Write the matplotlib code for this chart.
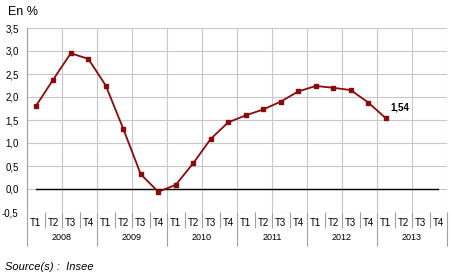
import matplotlib
matplotlib.use("Agg")
import matplotlib.pyplot as plt
import matplotlib.transforms as mtransforms
import numpy as np

plt.rcParams['font.family'] = ['Liberation Sans', 'DejaVu Sans']

years = ['2008', '2009', '2010', '2011', '2012', '2013']
quarters = ['T1', 'T2', 'T3', 'T4']
values = [1.80, 2.38, 2.95, 2.83,
          2.25, 1.31, 0.32, -0.06,
          0.09, 0.56, 1.09, 1.45,
          1.60, 1.73, 1.90, 2.12,
          2.24, 2.20, 2.15, 1.88,
          1.54]
yticks = [-0.5, 0.0, 0.5, 1.0, 1.5, 2.0, 2.5, 3.0, 3.5]
last_label = '1,54'

line_color = '#8b0a0a'
grid_color = '#c8c8c8'
axis_color = '#a0a0a0'

n_q = len(years) * len(quarters)
centers = np.arange(n_q) + 0.5

fig = plt.figure(figsize=(4.5, 2.79), dpi=100)
ax = fig.add_axes([27 / 450, 1 - 212 / 279, 420 / 450, 184 / 279])

ax.set_xlim(0, n_q)
ax.set_ylim(yticks[0], yticks[-1])

# grid
for y in yticks:
    ax.axhline(y, color=grid_color, lw=0.8, zorder=0)
for xg in range(0, n_q + 1, 2):
    ax.axvline(xg, color=grid_color, lw=0.8, zorder=0)

# zero line across the category centres
ax.plot([centers[0], centers[-1]], [0, 0], color='black', lw=1.0, zorder=1)

ax.plot(centers[:len(values)], values, color=line_color, lw=1.3,
        marker='s', markersize=3.4, zorder=3)
ax.annotate(last_label, (centers[len(values) - 1], values[-1]),
            xytext=(3, 4), textcoords='offset points',
            fontsize=7, fontweight='bold', va='bottom', ha='left')

for s in ax.spines.values():
    s.set_visible(False)
ax.spines['left'].set_visible(True)
ax.spines['left'].set_color(axis_color)
ax.spines['left'].set_linewidth(0.8)

ax.set_yticks(yticks)
ax.set_yticklabels([('%.1f' % v).replace('.', ',') for v in yticks])
ax.tick_params(axis='y', length=0, pad=6, labelsize=7)

# category axis: quarter ticks short, year ticks long
ax.set_xticks(np.arange(0, n_q + 1, 4))
ax.set_xticks([i for i in range(n_q) if i % 4 != 0], minor=True)
ax.tick_params(axis='x', which='major', length=24.5, width=0.8,
               color=axis_color, labelbottom=False)
ax.tick_params(axis='x', which='minor', length=11.5, width=0.8,
               color=axis_color, labelbottom=False)

trans = mtransforms.blended_transform_factory(ax.transData, ax.transAxes)
for i, c in enumerate(centers):
    ax.text(c, -0.06, quarters[i % 4], transform=trans, fontsize=7,
            ha='center', va='center')
for j, yr in enumerate(years):
    ax.text(j * 4 + 2, -0.14, yr, transform=trans, fontsize=6.5,
            ha='center', va='center')

fig.text(8 / 450, 1 - 12 / 279, 'En %', fontsize=9, va='center', ha='left')
fig.text(5 / 450, 1 - 267 / 279, 'Source(s) :  Insee', fontsize=8,
         style='italic', va='center', ha='left')

fig.savefig('out.png', dpi=100)
